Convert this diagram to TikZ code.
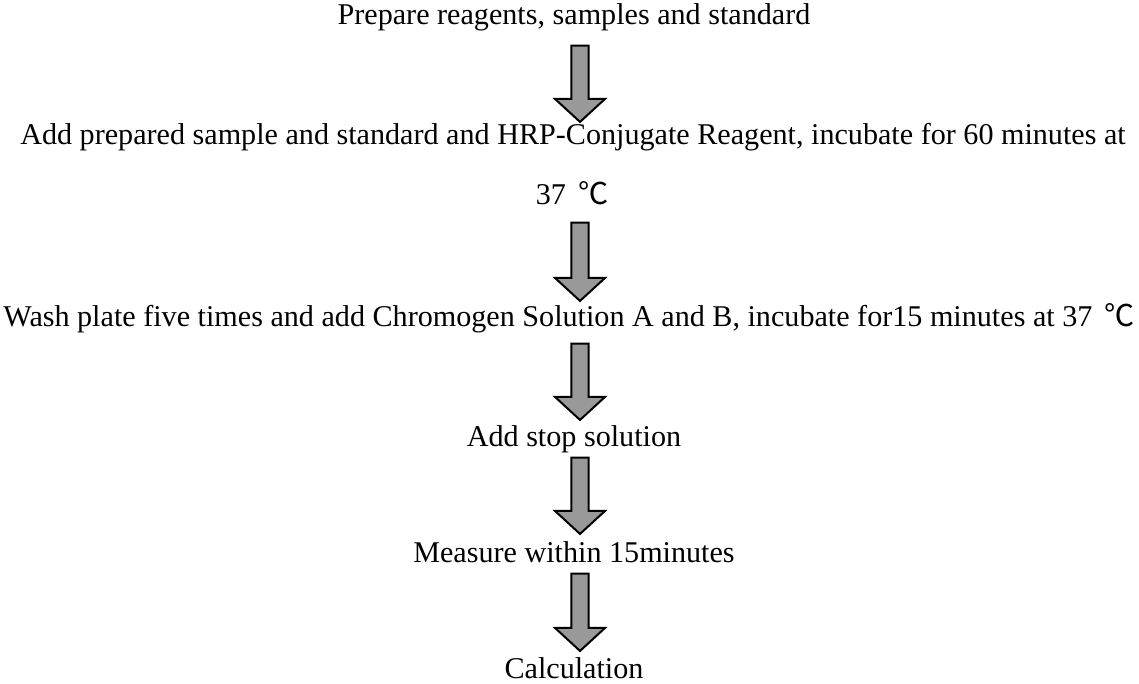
\documentclass[tikz,border=0pt]{standalone}
\usepackage{fontspec}
\setmainfont{Liberation Serif}
\newfontfamily\cjk{Noto Sans CJK SC}
\usepackage{tikz}
\usetikzlibrary{calc}
\definecolor{arrowgray}{RGB}{153,153,153}
\newcommand{\degc}{\hspace{0.4em}{\cjk ℃}}
\tikzset{
  stagetext/.style={anchor=base, inner sep=0pt, text height=15.6pt, text depth=5pt,
    font=\fontsize{22.6pt}{27pt}\selectfont},
  downarrow/.style={draw=black, fill=arrowgray, line width=1.5pt, line join=miter,
    to path={let \p1=(\tikztostart), \p2=(\tikztotarget) in
      (\x1-6.4pt,\y1) -- (\x1+6.4pt,\y1) -- (\x1+6.4pt,\y2+17.25pt) -- (\x1+18.75pt,\y2+17.25pt)
      -- (\x1,\y2) -- (\x1-18.75pt,\y2+17.25pt) -- (\x1-6.4pt,\y2+17.25pt) -- cycle}}
}

\begin{document}
\begin{tikzpicture}[x=0.75pt,y=-0.75pt]
\useasboundingbox (0,0) rectangle (1139,684);

% Text Node
\node[stagetext] (prep) at (574,25) {Prepare reagents, samples and standard};
% Text Node
\node[stagetext] (mix) at (573,145) {Add prepared sample and standard and HRP-Conjugate Reagent, incubate for 60 minutes at};
% Text Node
\node[stagetext] (temp) at (572,205) {37\degc};
% Text Node
\node[stagetext] (wash) at (569,327) {Wash plate five times and add Chromogen Solution A and B, incubate for15 minutes at 37\degc};
% Text Node
\node[stagetext] (stop) at (574,446) {Add stop solution};
% Text Node
\node[stagetext] (measure) at (574,562) {Measure within 15minutes};
% Text Node
\node[stagetext] (calc) at (574,678) {Calculation};

%Block Arrows
\draw[downarrow] ([xshift=4.5pt,yshift=-10.2pt]prep.south) to ([yshift=1.5pt]mix.north);
\draw[downarrow] ([xshift=6pt,yshift=-7.95pt]temp.south) to ([yshift=3.75pt]wash.north);
\draw[downarrow] ([xshift=8.25pt,yshift=-7.2pt]wash.south) to ([yshift=3.75pt]stop.north);
\draw[downarrow] ([xshift=4.5pt,yshift=-3.45pt]stop.south) to ([yshift=5.25pt]measure.north);
\draw[downarrow] ([xshift=4.5pt,yshift=-3.45pt]measure.south) to ([yshift=4.5pt]calc.north);

\end{tikzpicture}
\end{document}
